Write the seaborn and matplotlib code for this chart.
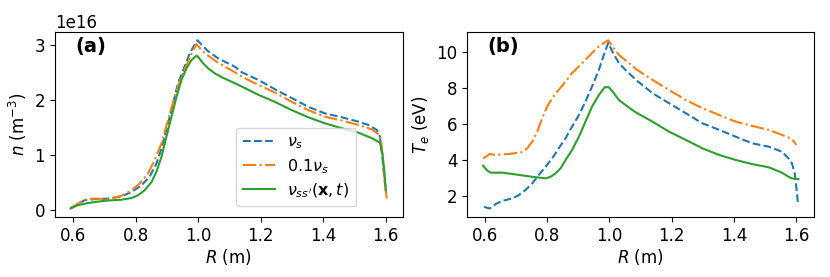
import numpy as np
import pandas as pd
import matplotlib
matplotlib.use("Agg")
import matplotlib.pyplot as plt
import seaborn as sns

# (a) density, units of 1e16 m^-3
R_n_vs = [0.5925, 0.616, 0.637, 0.669, 0.712, 0.755, 0.787, 0.819, 0.845, 0.867, 0.883, 0.904, 0.92, 0.936,
          0.957, 0.973, 0.989, 0.998, 1.011, 1.032, 1.064, 1.117, 1.139, 1.192, 1.245, 1.299, 1.352, 1.405,
          1.459, 1.512, 1.544, 1.571, 1.581, 1.589, 1.595, 1.6]
n_vs = [0.03, 0.1, 0.17, 0.19, 0.2, 0.24, 0.32, 0.44, 0.6, 0.84, 1.11, 1.57, 1.93, 2.30,
        2.6, 2.84, 3.0, 3.08, 3.0, 2.88, 2.75, 2.6, 2.5, 2.36, 2.19, 2.03, 1.87, 1.75,
        1.68, 1.6, 1.54, 1.45, 1.33, 0.96, 0.6, 0.38]

R_n_01 = [0.5925, 0.616, 0.637, 0.669, 0.712, 0.755, 0.787, 0.813, 0.84, 0.861, 0.883, 0.904, 0.925, 0.947,
          0.968, 0.984, 0.995, 1.011, 1.032, 1.064, 1.117, 1.139, 1.192, 1.245, 1.299, 1.352, 1.405, 1.459,
          1.512, 1.555, 1.576, 1.585, 1.592, 1.597, 1.603]
n_01 = [0.02, 0.11, 0.18, 0.2, 0.19, 0.25, 0.35, 0.47, 0.66, 0.9, 1.2, 1.63, 2.05, 2.42,
        2.69, 2.9, 3.01, 2.9, 2.8, 2.67, 2.5, 2.42, 2.27, 2.13, 1.96, 1.81, 1.69, 1.62,
        1.54, 1.46, 1.37, 1.27, 0.84, 0.47, 0.2]

R_n_ss = [0.5925, 0.616, 0.648, 0.701, 0.755, 0.787, 0.808, 0.829, 0.851, 0.867, 0.883, 0.899, 0.915, 0.931,
          0.947, 0.963, 0.979, 0.995, 1.0, 1.016, 1.032, 1.053, 1.075, 1.117, 1.139, 1.192, 1.245, 1.299,
          1.352, 1.405, 1.459, 1.512, 1.555, 1.581, 1.589, 1.595, 1.6]
n_ss = [0.02, 0.08, 0.12, 0.16, 0.18, 0.21, 0.26, 0.35, 0.5, 0.69, 0.96, 1.33, 1.69, 2.05,
        2.36, 2.57, 2.72, 2.8, 2.78, 2.66, 2.57, 2.48, 2.41, 2.3, 2.24, 2.09, 1.96, 1.81,
        1.68, 1.57, 1.48, 1.4, 1.3, 1.22, 1.02, 0.72, 0.35]

# (b) electron temperature, eV
R_T_vs = [0.597, 0.615, 0.634, 0.656, 0.688, 0.709, 0.73, 0.752, 0.773, 0.795, 0.816, 0.837, 0.859, 0.88,
          0.902, 0.923, 0.944, 0.966, 0.982, 0.996, 1.009, 1.03, 1.051, 1.085, 1.138, 1.191, 1.245, 1.298,
          1.352, 1.405, 1.458, 1.511, 1.554, 1.575, 1.586, 1.595, 1.6, 1.605]
T_vs = [1.38, 1.29, 1.53, 1.72, 1.85, 2.04, 2.32, 2.69, 3.16, 3.62, 4.09, 4.65, 5.21, 5.86,
        6.51, 7.26, 8.1, 9.03, 9.87, 10.53, 10.06, 9.41, 9.03, 8.47, 7.73, 7.17, 6.61, 6.05,
        5.68, 5.3, 4.93, 4.74, 4.46, 4.09, 3.81, 3.25, 2.5, 1.66]

R_T_01 = [0.594, 0.604, 0.615, 0.634, 0.677, 0.72, 0.736, 0.752, 0.768, 0.784, 0.8, 0.816, 0.837, 0.859,
          0.88, 0.902, 0.923, 0.944, 0.966, 0.982, 0.996, 1.009, 1.03, 1.062, 1.085, 1.138, 1.191, 1.245,
          1.298, 1.352, 1.405, 1.458, 1.511, 1.554, 1.581, 1.591, 1.6]
T_01 = [4.09, 4.18, 4.33, 4.28, 4.33, 4.44, 4.65, 5.02, 5.58, 6.33, 6.98, 7.45, 7.91, 8.38,
        8.85, 9.22, 9.59, 9.97, 10.34, 10.53, 10.68, 10.34, 9.87, 9.41, 9.07, 8.47, 7.91, 7.35,
        6.89, 6.51, 6.14, 5.9, 5.68, 5.4, 5.21, 5.06, 4.84]

R_T_ss = [0.594, 0.608, 0.618, 0.656, 0.698, 0.752, 0.795, 0.811, 0.827, 0.843, 0.859, 0.88, 0.902, 0.923,
          0.944, 0.966, 0.985, 0.998, 1.014, 1.03, 1.051, 1.085, 1.138, 1.191, 1.245, 1.298, 1.352, 1.405,
          1.458, 1.511, 1.554, 1.581, 1.597, 1.607]
T_ss = [3.68, 3.4, 3.29, 3.29, 3.19, 3.06, 2.97, 3.06, 3.25, 3.53, 4.0, 4.56, 5.3, 6.14,
        6.98, 7.63, 8.06, 8.06, 7.73, 7.35, 7.07, 6.65, 6.14, 5.58, 5.12, 4.65, 4.28, 4.0,
        3.77, 3.59, 3.29, 3.0, 2.93, 2.93]

x_ticks = [0.6, 0.8, 1.0, 1.2, 1.4, 1.6]
n_ticks = [0, 1e16, 2e16, 3e16]
T_ticks = [2, 4, 6, 8, 10]

labels = [r'$\nu_s$', r'$0.1\nu_s$', r"$\nu_{ss'}(\mathbf{x},t)$"]
colors = ['tab:blue', 'tab:orange', 'tab:green']
styles = ['--', '-.', '-']

plt.rcParams['font.size'] = 12

fig = plt.figure(figsize=(8.3, 2.77), dpi=100)
ax1 = fig.add_axes([0.066, 0.217, 0.419, 0.668])
ax2 = fig.add_axes([0.563, 0.217, 0.418, 0.668])

# panel (a)
n_sets = [(R_n_vs, n_vs), (R_n_01, n_01), (R_n_ss, n_ss)]
for (r, v), lab, c, ls in zip(n_sets, labels, colors, styles):
    sns.lineplot(x=np.array(r), y=np.array(v) * 1e16, ax=ax1, color=c, linestyle=ls,
                 label=lab, estimator=None, linewidth=1.5)
ax1.set_xlabel(r'$R$ (m)', labelpad=2)
ax1.set_ylabel(r'$n$ (m$^{-3}$)')
ax1.set_yticks(n_ticks)
ax1.text(0.06, 0.92, '(a)', transform=ax1.transAxes, fontsize=14, fontweight='bold', va='center')
ax1.legend(loc='lower left', bbox_to_anchor=(0.522, 0.059), borderaxespad=0, fontsize=11.5,
           labelspacing=0.35)

# panel (b)
T_sets = [(R_T_vs, T_vs), (R_T_01, T_01), (R_T_ss, T_ss)]
for (r, v), lab, c, ls in zip(T_sets, labels, colors, styles):
    sns.lineplot(x=r, y=v, ax=ax2, color=c, linestyle=ls, estimator=None, linewidth=1.5)
ax2.set_xlabel(r'$R$ (m)', labelpad=2)
ax2.set_ylabel(r'$T_e$ (eV)')
ax2.set_yticks(T_ticks)
ax2.text(0.057, 0.92, '(b)', transform=ax2.transAxes, fontsize=14, fontweight='bold', va='center')

for ax in (ax1, ax2):
    ax.set_xticks(x_ticks)

fig.savefig('out.png', dpi=100)
